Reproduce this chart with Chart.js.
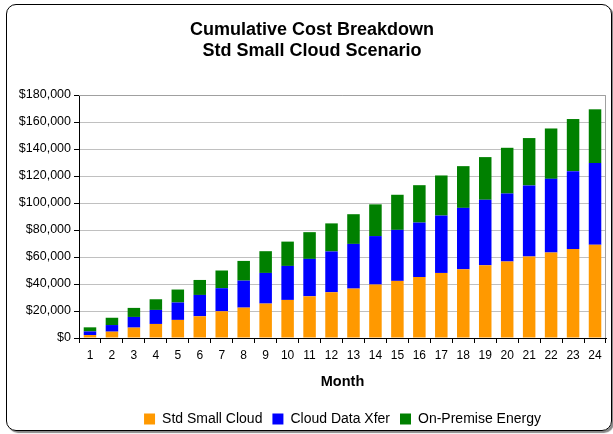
<!DOCTYPE html>
<html>
<head>
<meta charset="utf-8">
<script src="https://cdn.jsdelivr.net/npm/chart.js@4/dist/chart.umd.min.js"></script>
<style>
  html, body { margin: 0; padding: 0; background: #fff; }
  #wrap { position: relative; width: 613px; height: 434px; }
  #frame {
    position: absolute; left: 6px; top: 4px; width: 606px; height: 427px;
    box-sizing: border-box; border: 1.5px solid #000; border-radius: 10px;
    box-shadow: 2px 2px 1px #888;
  }
  #chart { position: absolute; left: 0; top: 0; }
</style>
</head>
<body>
<div id="wrap">
  <div id="frame"></div>
  <canvas id="chart" width="613" height="434"></canvas>
</div>
<script>
// Chart data
const months = ['1','2','3','4','5','6','7','8','9','10','11','12','13','14','15','16','17','18','19','20','21','22','23','24'];
const stdSmallCloud = [2200, 4700, 7700, 10400, 13400, 16100, 19800, 22500, 25500, 28200, 30900, 33900,
  36600, 39600, 42300, 45200, 48200, 50900, 53900, 56600, 60300, 63300, 66000, 69000];
const cloudDataXfer = [2700, 4900, 7900, 10400, 12900, 15800, 17100, 20000, 22700, 25200, 27700, 30200,
  33100, 35900, 37800, 40300, 42500, 45500, 48500, 50400, 52700, 54600, 57600, 60600];
const onPremiseEnergy = [3000, 5400, 6700, 7900, 9600, 11100, 13100, 14600, 16100, 18000, 19800, 20800,
  22000, 23500, 26000, 27700, 29700, 30900, 31600, 33900, 35100, 37300, 38600, 39800];
const yTicks = [0, 20000, 40000, 60000, 80000, 100000, 120000, 140000, 160000, 180000];

const FONT = "'Liberation Sans', Arial, sans-serif";
const PLOT = { left: 79, right: 606, top: 95, bottom: 338 };

// gray frame on top/right of the plot area
const plotFrame = {
  id: 'plotFrame',
  beforeDatasetsDraw(chart) {
    const { ctx, chartArea: a } = chart;
    ctx.save();
    ctx.strokeStyle = '#a0a0a0';
    ctx.lineWidth = 1;
    ctx.beginPath();
    ctx.moveTo(a.left, Math.round(a.top) + 0.5);
    ctx.lineTo(Math.round(a.right) - 0.5, Math.round(a.top) + 0.5);
    ctx.lineTo(Math.round(a.right) - 0.5, a.bottom);
    ctx.stroke();
    ctx.restore();
  }
};

// move title / legend where the original has them
const placeBlocks = {
  id: 'placeBlocks',
  afterLayout(chart) {
    const t = chart.titleBlock;
    if (t) { t.left = 11; t.right = 613; }
    const lg = chart.legend;
    if (lg) {
      lg.left = chart.chartArea.left;
      lg.right = chart.chartArea.right;
      lg.top = 402;
      lg.bottom = lg.top + lg.height;
    }
  }
};

const ctx = document.getElementById('chart').getContext('2d');
new Chart(ctx, {
  type: 'bar',
  data: {
    labels: months,
    datasets: [
      { label: 'Std Small Cloud', data: stdSmallCloud, backgroundColor: '#ff9900' },
      { label: 'Cloud Data Xfer', data: cloudDataXfer, backgroundColor: '#0000ff' },
      { label: 'On-Premise Energy', data: onPremiseEnergy, backgroundColor: '#008000' }
    ]
  },
  options: {
    responsive: false,
    animation: false,
    devicePixelRatio: 1,
    layout: { padding: { left: 10, right: 613 - PLOT.right, top: 0, bottom: 0 } },
    datasets: { bar: { barPercentage: 0.57, categoryPercentage: 1, borderWidth: 0 } },
    plugins: {
      title: {
        display: true,
        text: ['Cumulative Cost Breakdown', 'Std Small Cloud Scenario'],
        color: '#000',
        font: { family: FONT, size: 18, weight: 'bold', lineHeight: 1.2 },
        padding: { top: 19, bottom: PLOT.top - 19 - 43.2 }
      },
      legend: {
        position: 'bottom',
        labels: {
          color: '#000',
          font: { family: FONT, size: 14 },
          boxWidth: 11, boxHeight: 11, padding: 10
        }
      },
      tooltip: { enabled: false }
    },
    scales: {
      x: {
        stacked: true,
        offset: true,
        grid: { offset: true, drawOnChartArea: false, drawTicks: true, tickLength: 5, tickColor: '#000' },
        border: { display: true, color: '#000', width: 1 },
        ticks: { color: '#000', font: { family: FONT, size: 12 }, padding: 5, maxRotation: 0, autoSkip: false },
        title: {
          display: true, text: 'Month', color: '#000',
          font: { family: FONT, size: 14.5, weight: 'bold', lineHeight: 1.2 },
          padding: { top: 0, bottom: 9 }
        },
        afterFit(scale) {
          const lgH = scale.chart.legend ? scale.chart.legend.height : 34;
          scale.height = 434 - lgH - PLOT.bottom;
        }
      },
      y: {
        stacked: true,
        min: 0, max: 180000,
        afterBuildTicks(scale) { scale.ticks = yTicks.map(v => ({ value: v })); },
        grid: { color: '#c0c0c0', tickColor: '#000', tickLength: 5 },
        border: { display: true, color: '#000', width: 1 },
        ticks: {
          color: '#000', font: { family: FONT, size: 12.5 }, padding: 3,
          callback: v => '$' + Number(v).toLocaleString('en-US')
        },
        afterFit(scale) { scale.width = PLOT.left - 10; }
      }
    }
  },
  plugins: [plotFrame, placeBlocks]
});
</script>
</body>
</html>
